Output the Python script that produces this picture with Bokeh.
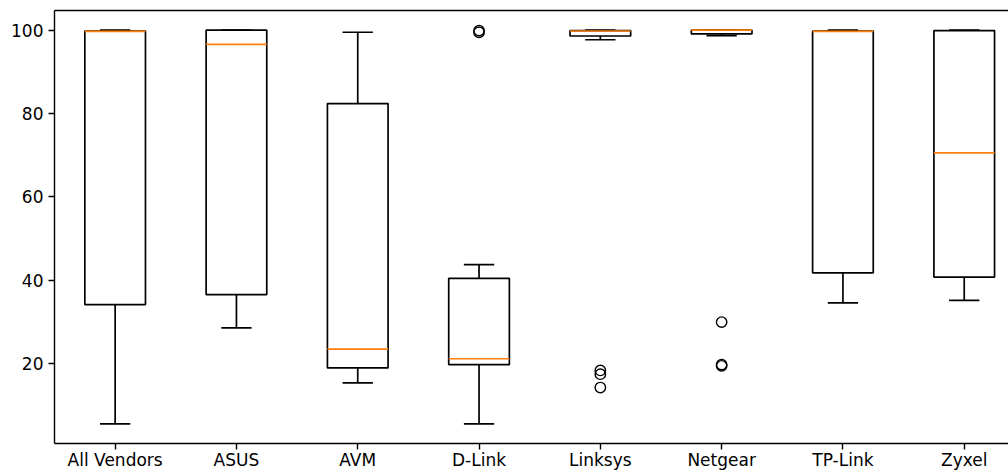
from bokeh.plotting import figure
from bokeh.models import FixedTicker, LinearAxis, Range1d, ColumnDataSource
from bokeh.transform import dodge
from bokeh.embed import file_html
from bokeh.resources import INLINE

categories = ["All Vendors", "ASUS", "AVM", "D-Link", "Linksys", "Netgear", "TP-Link", "Zyxel"]
whisker_low = [5.6, 28.6, 15.4, 5.6, 97.7, 98.7, 34.6, 35.2]
q1 = [34.2, 36.6, 19.0, 19.8, 98.6, 99.1, 41.8, 40.8]
median = [99.7, 96.6, 23.5, 21.2, 99.8, 100.0, 99.7, 70.6]
q3 = [99.8, 100.0, 82.4, 40.5, 99.9, 100.0, 99.8, 99.9]
whisker_high = [100.0, 100.0, 99.5, 43.8, 100.0, 100.0, 100.0, 100.0]

outlier_vendor = ["D-Link", "D-Link", "Linksys", "Linksys", "Linksys", "Netgear", "Netgear", "Netgear"]
outlier_value = [99.5, 99.9, 18.4, 17.5, 14.3, 30.0, 19.8, 19.5]

y_ticks = [20, 40, 60, 80, 100]

xs = list(range(1, len(categories) + 1))
src = ColumnDataSource(dict(x=xs, cat=categories, lo=whisker_low, q1=q1,
                            med=median, q3=q3, hi=whisker_high))
out_src = ColumnDataSource(dict(x=[categories.index(v) + 1 for v in outlier_vendor],
                                y=outlier_value))

p = figure(width=1008, height=472, x_range=Range1d(0.5, 8.365),
           y_range=Range1d(0.88, 104.72), output_backend="svg",
           toolbar_location=None, min_border_left=54, min_border_right=0,
           min_border_top=10, min_border_bottom=0)
p.outline_line_color = None
p.xgrid.visible = False
p.ygrid.visible = False
p.background_fill_color = "white"
p.border_fill_color = "white"

LW = 1.7
# whiskers
p.segment(x0="x", y0="q1", x1="x", y1="lo", source=src, line_color="black", line_width=LW)
p.segment(x0="x", y0="q3", x1="x", y1="hi", source=src, line_color="black", line_width=LW)
# caps
p.segment(x0=dodge("x", -0.125), x1=dodge("x", 0.125), y0="lo", y1="lo", source=src,
          line_color="black", line_width=LW)
p.segment(x0=dodge("x", -0.125), x1=dodge("x", 0.125), y0="hi", y1="hi", source=src,
          line_color="black", line_width=LW)
# boxes
p.vbar(x="x", width=0.5, bottom="q1", top="q3", source=src, fill_color=None,
       line_color="black", line_width=LW)
# medians
p.segment(x0=dodge("x", -0.25), x1=dodge("x", 0.25), y0="med", y1="med", source=src,
          line_color="#ff7f0e", line_width=LW)
# fliers
p.scatter(x="x", y="y", source=out_src, marker="circle", size=10.4, fill_color=None,
          line_color="black", line_width=1.4)

p.xaxis.ticker = FixedTicker(ticks=xs)
p.xaxis.major_label_overrides = {x: c for x, c in zip(xs, categories)}
p.yaxis.ticker = FixedTicker(ticks=y_ticks)

for ax in [p.xaxis[0], p.yaxis[0]]:
    ax.minor_tick_line_color = None
    ax.major_tick_out = 6
    ax.major_tick_in = 0
    ax.major_tick_line_width = 1.4
    ax.axis_line_width = 1.4
    ax.major_label_standoff = 5
    ax.major_label_text_font = "DejaVu Sans"
    ax.major_label_text_font_size = "17px"
    ax.major_label_text_color = "black"
p.xaxis[0].major_label_standoff = 0

top_axis = LinearAxis(ticker=FixedTicker(ticks=[]), major_label_text_font_size="0px",
                      major_tick_out=0, major_tick_in=0, minor_tick_line_color=None,
                      axis_line_width=1.4, major_label_standoff=0)
p.add_layout(top_axis, "above")

open("out.html", "w").write(file_html(p, INLINE))
